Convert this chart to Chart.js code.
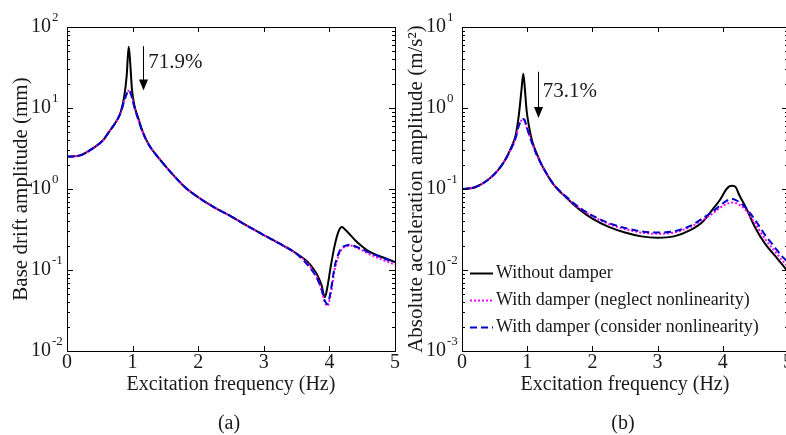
<!DOCTYPE html>
<html>
<head>
<meta charset="utf-8">
<script src="https://cdn.jsdelivr.net/npm/chart.js@4.4.1/dist/chart.umd.min.js"></script>
<style>
html, body { margin: 0; padding: 0; background: #fff; overflow: hidden; width: 786px; height: 435px; }
.box { position: absolute; top: 0; width: 400px; height: 435px; }
</style>
</head>
<body>
<div class="box" style="left:0"><canvas id="chartA" width="400" height="435"></canvas></div>
<div class="box" style="left:395px"><canvas id="chartB" width="400" height="435"></canvas></div>
<script>
// (a) base drift amplitude (mm)
const freqA = [0, 0.2, 0.4, 0.55, 0.65, 0.75, 0.82, 0.87, 0.91, 0.94, 0.96, 0.99, 1.03, 1.08, 1.15, 1.25, 1.4, 1.6, 1.8, 2.0,
  2.25, 2.5, 2.75, 3.0, 3.25, 3.5, 3.65, 3.75, 3.82, 3.88, 3.93, 3.97, 4.02, 4.08, 4.14, 4.19, 4.25, 4.32, 4.4, 4.5,
  4.6, 4.75, 4.9, 5.0];
const driftNoDamper = [2.5, 2.6, 3.2, 4.0, 5.2, 6.8, 9.0, 13.5, 25, 57, 40, 17, 10.5, 7.8, 5.2, 3.5, 2.4, 1.55, 1.05, 0.79,
  0.59, 0.46, 0.35, 0.27, 0.21, 0.16, 0.13, 0.105, 0.085, 0.065, 0.046, 0.062, 0.11, 0.2, 0.3, 0.34, 0.31, 0.27, 0.23, 0.195,
  0.17, 0.15, 0.135, 0.125];
const driftNeglect = [2.5, 2.6, 3.2, 4.0, 5.2, 6.8, 8.8, 12, 15, 16.3, 15.8, 13.5, 10, 7.5, 5.1, 3.5, 2.4, 1.55, 1.05, 0.79,
  0.59, 0.46, 0.35, 0.27, 0.21, 0.158, 0.125, 0.098, 0.078, 0.057, 0.04, 0.036, 0.05, 0.1, 0.15, 0.18, 0.195, 0.2, 0.19, 0.175,
  0.158, 0.14, 0.125, 0.117];
const driftConsider = [2.5, 2.6, 3.2, 4.0, 5.2, 6.8, 8.8, 12, 15, 16.5, 16, 13.5, 10, 7.5, 5.1, 3.5, 2.4, 1.55, 1.05, 0.79,
  0.59, 0.46, 0.35, 0.27, 0.21, 0.158, 0.12, 0.095, 0.076, 0.058, 0.042, 0.038, 0.055, 0.11, 0.16, 0.19, 0.2, 0.205, 0.195, 0.18,
  0.165, 0.148, 0.133, 0.125];

// (b) absolute acceleration amplitude (m/s2)
const freqB = [0, 0.2, 0.4, 0.55, 0.65, 0.75, 0.82, 0.87, 0.91, 0.94, 0.96, 0.99, 1.03, 1.08, 1.15, 1.25, 1.4, 1.6, 1.8, 2.0,
  2.25, 2.5, 2.75, 3.0, 3.25, 3.5, 3.7, 3.85, 3.95, 4.05, 4.1, 4.15, 4.2, 4.25, 4.35, 4.5, 4.65, 4.8, 4.9, 5.0];
const accNoDamper = [0.1, 0.105, 0.13, 0.17, 0.22, 0.32, 0.45, 0.8, 1.6, 2.65, 1.9, 0.95, 0.58, 0.38, 0.27, 0.18, 0.115, 0.078, 0.056, 0.043,
  0.034, 0.029, 0.026, 0.025, 0.026, 0.031, 0.04, 0.057, 0.072, 0.098, 0.108, 0.11, 0.105, 0.085, 0.06, 0.033, 0.021, 0.015, 0.012, 0.0095];
const accNeglect = [0.1, 0.105, 0.13, 0.17, 0.22, 0.31, 0.42, 0.6, 0.7, 0.72, 0.7, 0.58, 0.47, 0.36, 0.26, 0.18, 0.115, 0.079, 0.058, 0.046,
  0.037, 0.032, 0.029, 0.028, 0.029, 0.034, 0.042, 0.05, 0.058, 0.065, 0.067, 0.068, 0.067, 0.064, 0.055, 0.037, 0.024, 0.017, 0.0135, 0.011];
const accConsider = [0.1, 0.105, 0.13, 0.17, 0.22, 0.31, 0.42, 0.6, 0.7, 0.73, 0.71, 0.59, 0.47, 0.36, 0.26, 0.18, 0.116, 0.08, 0.059, 0.047,
  0.038, 0.033, 0.03, 0.029, 0.03, 0.035, 0.044, 0.053, 0.062, 0.071, 0.074, 0.075, 0.073, 0.069, 0.059, 0.041, 0.027, 0.019, 0.015, 0.0125];

const xTicks = [0, 1, 2, 3, 4, 5];
const decadesA = [-2, -1, 0, 1, 2];
const decadesB = [-3, -2, -1, 0, 1];
const seriesNames = ['Without damper', 'With damper (neglect nonlinearity)', 'With damper (consider nonlinearity)'];

const SERIF = '"Liberation Serif", "Times New Roman", serif';
const INK = '#1a1a1a';

function pts(xs, ys) { return xs.map((x, i) => ({ x: x, y: ys[i] })); }

function makeSets(xs, a, b, c) {
  return [
    { label: seriesNames[0], data: pts(xs, a), borderColor: '#000', borderWidth: 2, order: 3 },
    { label: seriesNames[1], data: pts(xs, b), borderColor: '#ff00ff', borderWidth: 2, borderDash: [2, 2], order: 2 },
    { label: seriesNames[2], data: pts(xs, c), borderColor: '#0000cc', borderWidth: 2, borderDash: [7, 4], order: 1 }
  ];
}

// box frame, inward ticks, 10^n labels, arrow note, legend, panel tag
const decor = {
  id: 'decor',
  afterDraw(chart, args, o) {
    const { ctx, chartArea: a } = chart;
    const x = chart.scales.x, y = chart.scales.y;
    ctx.save();
    ctx.strokeStyle = '#000';
    ctx.lineWidth = 1;
    ctx.strokeRect(Math.round(a.left) + 0.5, Math.round(a.top) + 0.5, Math.round(a.right - a.left), Math.round(a.bottom - a.top));
    ctx.beginPath();
    xTicks.forEach(v => {
      const px = Math.round(x.getPixelForValue(v)) + 0.5;
      ctx.moveTo(px, a.bottom); ctx.lineTo(px, a.bottom - 5);
      ctx.moveTo(px, a.top); ctx.lineTo(px, a.top + 5);
    });
    o.decades.forEach((n, i) => {
      for (let m = 1; m < 10; m++) {
        if (m > 1 && i === o.decades.length - 1) break;
        const py = Math.round(y.getPixelForValue(m * Math.pow(10, n))) + 0.5;
        const len = m === 1 ? 6 : 3;
        ctx.moveTo(a.left, py); ctx.lineTo(a.left + len, py);
        ctx.moveTo(a.right, py); ctx.lineTo(a.right - len, py);
      }
    });
    ctx.stroke();

    // y tick labels as 10 with raised exponent
    ctx.fillStyle = INK;
    o.decades.forEach(n => {
      const py = y.getPixelForValue(Math.pow(10, n));
      ctx.font = '20px ' + SERIF;
      ctx.textAlign = 'right';
      ctx.textBaseline = 'middle';
      ctx.fillText('10', a.left - 16, py);
      ctx.font = '13px ' + SERIF;
      ctx.textAlign = 'left';
      ctx.fillText(String(n), a.left - 15, py - 9);
    });

    // reduction arrow
    const ax = Math.round(x.getPixelForValue(o.arrow.x)) + 0.5;
    const y0 = y.getPixelForValue(o.arrow.from), y1 = y.getPixelForValue(o.arrow.to);
    ctx.beginPath();
    ctx.moveTo(ax, y0); ctx.lineTo(ax, y1 - 10);
    ctx.stroke();
    ctx.fillStyle = '#000';
    ctx.beginPath();
    ctx.moveTo(ax - 4.5, y1 - 11); ctx.lineTo(ax + 4.5, y1 - 11); ctx.lineTo(ax, y1);
    ctx.closePath(); ctx.fill();
    ctx.fillStyle = INK;
    ctx.font = '21px ' + SERIF;
    ctx.textAlign = 'left';
    ctx.textBaseline = 'middle';
    ctx.fillText(o.arrow.text, x.getPixelForValue(o.arrow.textX), y.getPixelForValue(o.arrow.textY));

    // panel tag
    ctx.font = '20px ' + SERIF;
    ctx.textAlign = 'center';
    ctx.fillText(o.tag, (a.left + a.right) / 2 - 2, 424);

    // legend inside plot
    if (o.legend) {
      ctx.font = '18px ' + SERIF;
      chart.data.datasets.forEach((ds, i) => {
        const ly = Math.round(a.bottom - 78 + i * 27) + 0.5;
        ctx.save();
        ctx.strokeStyle = ds.borderColor;
        ctx.lineWidth = 2;
        ctx.setLineDash(ds.borderDash || []);
        ctx.beginPath();
        ctx.moveTo(a.left + 8, ly); ctx.lineTo(a.left + 31, ly);
        ctx.stroke();
        ctx.restore();
        ctx.fillStyle = INK;
        ctx.textAlign = 'left';
        ctx.fillText(ds.label, a.left + 34, ly);
      });
    }
    ctx.restore();
  }
};

function makeChart(id, xs, a, b, c, yMin, yMax, yTitle, extra) {
  return new Chart(document.getElementById(id), {
    type: 'line',
    data: { datasets: makeSets(xs, a, b, c) },
    plugins: [decor],
    options: {
      responsive: false,
      animation: false,
      devicePixelRatio: 1,
      layout: { padding: { left: 0, top: 27, right: extra.padRight, bottom: 38 } },
      elements: { point: { radius: 0 }, line: { cubicInterpolationMode: 'monotone' } },
      scales: {
        x: {
          type: 'linear', min: 0, max: 5,
          grid: { display: false, drawTicks: false },
          border: { display: false },
          ticks: { stepSize: 1, padding: 0, color: INK, font: { family: SERIF, size: 20 } },
          title: { display: true, text: 'Excitation frequency (Hz)', color: INK, padding: 0, font: { family: SERIF, size: 20 } },
          afterFit: s => { s.height = 46; }
        },
        y: {
          type: 'logarithmic', min: yMin, max: yMax,
          grid: { display: false, drawTicks: false },
          border: { display: false },
          ticks: { display: false },
          title: { display: true, text: yTitle, color: INK, padding: { top: 9, bottom: 0 }, font: { family: SERIF, size: 21 } },
          afterFit: s => { s.width = 67; }
        }
      },
      plugins: {
        legend: { display: false },
        tooltip: { enabled: false },
        decor: extra.decor
      }
    }
  });
}

makeChart('chartA', freqA, driftNoDamper, driftNeglect, driftConsider, 0.01, 100, 'Base drift amplitude (mm)', {
  padRight: 5,
  decor: {
    decades: decadesA, tag: '(a)', legend: false,
    arrow: { x: 1.16, from: 58, to: 16.5, text: '71.9%', textX: 1.24, textY: 36 }
  }
});

makeChart('chartB', freqB, accNoDamper, accNeglect, accConsider, 0.001, 10, 'Absolute acceleration amplitude (m/s\u00B2)', {
  padRight: 7,
  decor: {
    decades: decadesB, tag: '(b)', legend: true,
    arrow: { x: 1.16, from: 2.8, to: 0.75, text: '73.1%', textX: 1.24, textY: 1.58 }
  }
});
</script>
</body>
</html>
